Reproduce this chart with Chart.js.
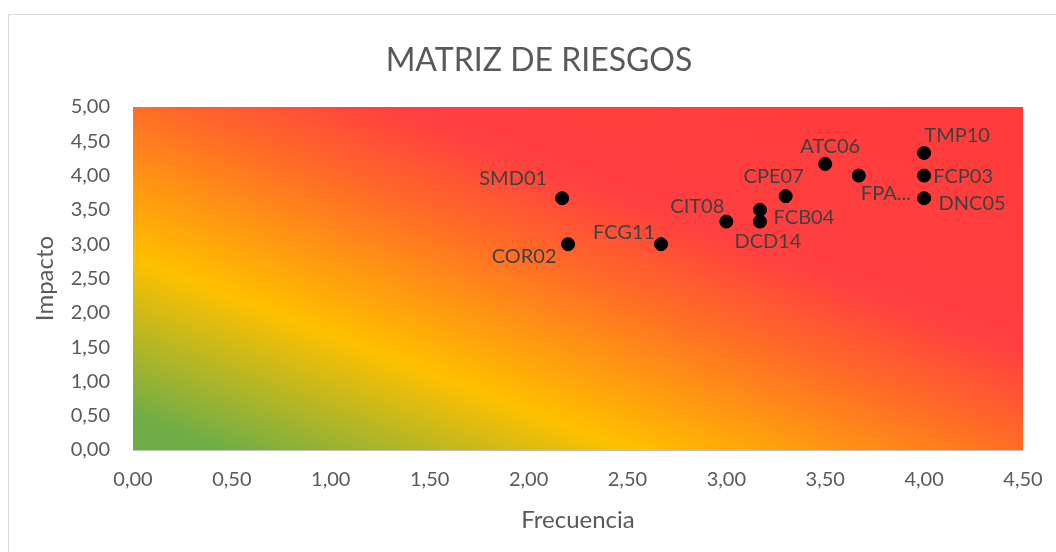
<!DOCTYPE html>
<html>
<head>
<meta charset="utf-8">
<script src="https://cdn.jsdelivr.net/npm/chart.js@4.4.1/dist/chart.umd.min.js"></script>
<style>
    html, body { margin:0; padding:0; background:#fff; }
    #wrap { position:relative; width:1056px; height:552px; }
    #frame { position:absolute; left:8px; top:14px; width:1060px; height:560px; border:1px solid #d9d9d9; box-sizing:border-box; }
    canvas { position:absolute; left:0; top:0; }
</style>
</head>
<body>
<div id="wrap">
    <div id="frame"></div>
    <canvas id="matriz" width="1056" height="552"></canvas>
</div>
<script>
//DATOS
const codigos = ['SMD01','COR02','FCG11','CIT08','FCB04','DCD14','CPE07','ATC06','FPA...','TMP10','FCP03','DNC05'];
const frecuencia = [2.17, 2.20, 2.67, 3.00, 3.17, 3.17, 3.30, 3.50, 3.67, 4.00, 4.00, 4.00];
const impacto    = [3.67, 3.00, 3.00, 3.33, 3.50, 3.33, 3.70, 4.17, 4.00, 4.33, 4.00, 3.67];

//POSICION DE ETIQUETAS (px desde el punto)
const etiquetaDX = [-49, -44, -37, -29, 44, 8, -12, 5, 27, 33, 39, 48];
const etiquetaDY = [-20, 12, -12, -15, 8, 20, -20, -17, 18, -17, 1, 5];

const coma = v => Number(v).toFixed(2).replace('.', ',');
const fuente = 'Lato, "Open Sans", sans-serif';

//FONDO DEGRADADO
const fondo = {
    id: 'fondo',
    beforeDatasetsDraw(chart) {
        const {ctx, chartArea: a} = chart;
        ctx.save();
        ctx.translate(a.left, a.bottom);
        ctx.scale(a.right - a.left, -(a.bottom - a.top));
        const g = ctx.createLinearGradient(0, 0, 1, 1);
        g.addColorStop(0, '#70AD47');
        g.addColorStop(0.05, '#70AD47');
        g.addColorStop(0.28, '#FFC000');
        g.addColorStop(0.50, '#FF6E26');
        g.addColorStop(0.64, '#FF4040');
        g.addColorStop(1, '#FF3B3B');
        ctx.fillStyle = g;
        ctx.fillRect(0, 0, 1, 1);
        ctx.restore();
    }
};

//ETIQUETAS Y TITULO
const etiquetas = {
    id: 'etiquetas',
    afterDatasetsDraw(chart) {
        const ctx = chart.ctx;
        const meta = chart.getDatasetMeta(0);
        ctx.save();
        ctx.font = '20px ' + fuente;
        ctx.fillStyle = '#404040';
        ctx.textAlign = 'center';
        ctx.textBaseline = 'middle';
        meta.data.forEach((p, i) => {
            ctx.fillText(codigos[i], p.x + etiquetaDX[i], p.y + etiquetaDY[i]);
        });
        ctx.font = '32px ' + fuente;
        ctx.fillStyle = '#595959';
        ctx.fillText('MATRIZ DE RIESGOS', 539, 61);
        ctx.restore();
    }
};

const ctxM = document.getElementById('matriz').getContext('2d');
const chartM = new Chart(ctxM, {
    type: 'scatter',
    plugins: [fondo, etiquetas],
    data: {
        datasets: [{
            data: frecuencia.map((x, i) => ({x: x, y: impacto[i]})),
            backgroundColor: '#000',
            borderColor: '#000',
            pointRadius: 6.5,
            pointHoverRadius: 6.5,
        }]
    },
    options: {
        responsive: false,
        animation: false,
        events: [],
        layout: { padding: { left: 0, right: 33, top: 107, bottom: 0 } },
        plugins: {
            legend: { display: false },
            tooltip: { enabled: false },
            title: { display: false }
        },
        scales: {
            x: {
                type: 'linear',
                min: 0, max: 4.5,
                afterFit: s => { s.height = 102; s.paddingLeft = 0; s.paddingRight = 0; },
                grid: { display: false, drawTicks: false },
                border: { display: true, color: '#bfbfbf' },
                ticks: {
                    stepSize: 0.5,
                    padding: 18,
                    color: '#595959',
                    font: { family: fuente, size: 20 },
                    callback: v => coma(v)
                },
                title: {
                    display: true,
                    text: 'Frecuencia',
                    color: '#595959',
                    font: { family: fuente, size: 24 },
                    padding: { top: 0, bottom: 17 }
                }
            },
            y: {
                type: 'linear',
                min: 0, max: 5,
                afterFit: s => { s.width = 133; s.paddingTop = 0; s.paddingBottom = 0; },
                grid: { display: false, drawTicks: false },
                border: { display: true, color: '#bfbfbf' },
                ticks: {
                    stepSize: 0.5,
                    padding: 23,
                    color: '#595959',
                    font: { family: fuente, size: 20 },
                    callback: v => coma(v)
                },
                title: {
                    display: true,
                    text: 'Impacto',
                    color: '#595959',
                    font: { family: fuente, size: 24 },
                    padding: { top: 31, bottom: 0 }
                }
            }
        }
    }
});
</script>
</body>
</html>
